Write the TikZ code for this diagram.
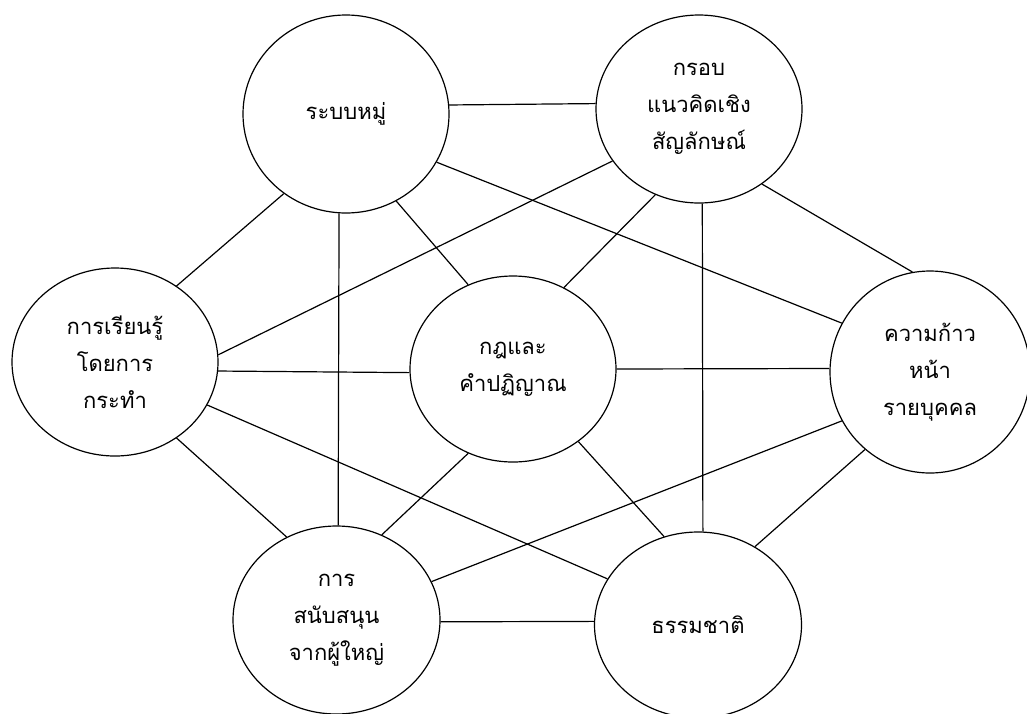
\documentclass[tikz,border=0pt]{standalone}
\usepackage{fontspec}
\newfontfamily\thaifont[Script=Thai]{Loma}
\usetikzlibrary{shapes.geometric}
\tikzset{
  bubble/.style={ellipse, draw=black, line width=1.2pt, fill=white, inner sep=0pt,
    minimum width=206pt, minimum height=188pt, align=center,
    font=\thaifont\fontsize{22}{37}\selectfont},
  link/.style={draw=black, line width=1.2pt}
}
\begin{document}
\begin{tikzpicture}[x=1pt,y=-1pt]
\useasboundingbox (0,0) rectangle (1027,713);
\fill[white] (0,0) rectangle (1027,713);
\node[bubble, minimum height=198pt] (A) at (346,114) {ระบบหมู่};
\node[bubble] (B) at (699,109) {กรอบ\\แนวคิดเชิง\\สัญลักษณ์};
\node[bubble] (C) at (115,362) {การเรียนรู้\\โดยการ\\กระทำ};
\node[bubble, minimum height=186pt] (D) at (513,369) {กฎและ\\คำปฏิญาณ};
\node[bubble, minimum width=200pt, minimum height=202pt] (E) at (930,372) {ความก้าว\\หน้า\\รายบุคคล};
\node[bubble, minimum width=207pt] (F) at (336.5,620) {การ\\สนับสนุน\\จากผู้ใหญ่};
\node[bubble, minimum width=207pt, minimum height=186pt] (G) at (698,625) {ธรรมชาติ};
\begin{scope}[on background layer/.try]
\end{scope}
\path[link] (A.5.5) -- (B.177.2);
\path[link] (A.-128.6) -- (C.51.6);
\path[link] (A.-94.6) -- (F.89);
\path[link] (A.-60.9) -- (D.118.5);
\path[link] (A.-28.1) -- (E.151.6);
\path[link] (B.-149.8) -- (C.4.8);
\path[link] (B.-117.8) -- (D.58.9);
\path[link] (B.-88.2) -- (G.87.5);
\path[link] (B.-50) -- (E.100.1);
\path[link] (C.-5) -- (D.-178.9);
\path[link] (C.-51.3) -- (F.121.2);
\path[link] (C.-25.8) -- (G.153.2);
\path[link] (D.0) -- (E.178.2);
\path[link] (D.-118.2) -- (F.62.1);
\path[link] (D.-48.8) -- (G.111.8);
\path[link] (E.-151.4) -- (F.22.6);
\path[link] (E.-130.2) -- (G.54.9);
\path[link] (F.-1.1) -- (G.178.3);
\end{tikzpicture}
\end{document}
